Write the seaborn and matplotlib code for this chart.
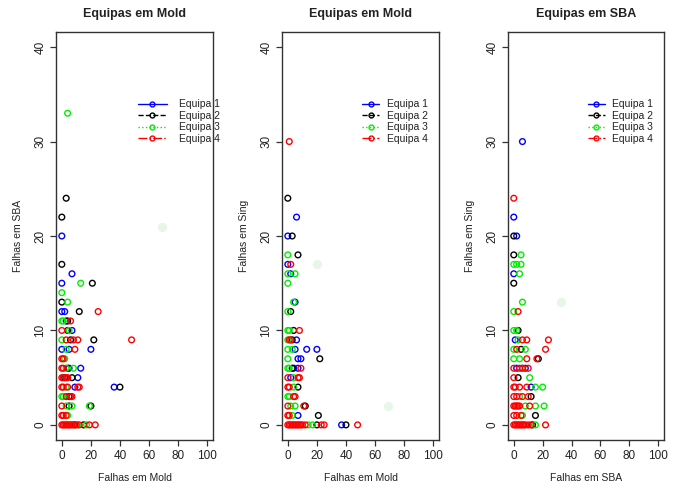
import pandas as pd
import seaborn as sns
from matplotlib import pyplot as plt
from matplotlib.lines import Line2D

# (x, y) points per team
mold_sba_eq1 = [(0, 20), (7, 16), (0, 15), (0, 12), (2, 12), (3, 11), (7, 10), (0, 8), (5, 8), (20, 8),
                (5, 6), (13, 6), (11, 5), (9, 4), (36, 4)]
mold_sba_eq2 = [(3, 24), (0, 22), (0, 17), (21, 15), (0, 13), (12, 12), (4, 11), (4, 10), (6, 9), (22, 9),
                (4, 6), (2, 5), (7, 5), (5, 3), (5, 2), (20, 2), (9, 0), (15, 0), (40, 4)]
mold_sba_eq3 = [(4, 33), (13, 15), (0, 14), (4, 13), (0, 11), (1, 11), (5, 10), (0, 9), (3, 8), (2, 7),
                (3, 6), (8, 6), (3, 4), (0, 3), (1, 3), (3, 2), (7, 2), (19, 2), (4, 1), (11, 0), (17, 0)]
mold_sba_eq4 = [(25, 12), (6, 11), (0, 10), (3, 9), (8, 9), (11, 9), (48, 9), (9, 8), (0, 7), (1, 7),
                (0, 6), (1, 6), (0, 5), (1, 5), (3, 5), (4, 5), (0, 4), (1, 4), (4, 4), (11, 4), (12, 4),
                (3, 3), (6, 3), (7, 3), (0, 2), (0, 1), (1, 1), (3, 1), (0, 0), (1, 0), (2, 0), (3, 0),
                (4, 0), (5, 0), (6, 0), (7, 0), (8, 0), (10, 0), (12, 0), (19, 0), (23, 0)]

mold_sing_eq1 = [(6, 22), (0, 20), (0, 17), (2, 16), (5, 13), (6, 9), (5, 8), (13, 8), (20, 8), (7, 7),
                 (9, 7), (4, 6), (7, 6), (2, 5), (7, 1), (37, 0)]
mold_sing_eq2 = [(0, 24), (3, 20), (7, 18), (2, 12), (4, 10), (3, 9), (22, 7), (3, 6), (7, 4), (12, 2),
                 (21, 1), (20, 0), (40, 0)]
mold_sing_eq3 = [(0, 18), (0, 16), (5, 16), (0, 15), (4, 13), (0, 12), (0, 10), (1, 10), (0, 9), (0, 8),
                 (3, 8), (0, 7), (0, 6), (1, 6), (4, 5), (4, 4), (0, 3), (1, 3), (2, 2), (5, 2), (3, 1),
                 (14, 0), (17, 0)]
mold_sing_eq4 = [(1, 30), (2, 17), (8, 10), (1, 9), (2, 9), (9, 6), (0, 5), (7, 5), (8, 5), (0, 4),
                 (1, 4), (4, 3), (5, 3), (0, 2), (11, 2), (0, 1), (1, 1), (0, 0), (1, 0), (2, 0), (3, 0),
                 (4, 0), (5, 0), (6, 0), (7, 0), (8, 0), (9, 0), (10, 0), (12, 0), (23, 0), (25, 0), (48, 0)]

sba_sing_eq1 = [(6, 30), (0, 22), (2, 20), (0, 16), (1, 9), (2, 6), (8, 6), (12, 4)]
sba_sing_eq2 = [(0, 20), (0, 18), (0, 15), (3, 10), (5, 8), (17, 7), (3, 5), (12, 3), (15, 1), (13, 0)]
sba_sing_eq3 = [(5, 18), (0, 17), (2, 17), (5, 17), (4, 16), (6, 13), (0, 12), (0, 10), (2, 10), (3, 9),
                (0, 8), (8, 8), (0, 7), (4, 7), (6, 6), (11, 5), (15, 4), (20, 4), (4, 3), (8, 2),
                (15, 2), (21, 2), (6, 1), (15, 0)]
sba_sing_eq4 = [(0, 24), (3, 12), (6, 9), (9, 9), (24, 9), (2, 8), (22, 8), (9, 7), (16, 7), (0, 6),
                (4, 6), (6, 6), (10, 6), (0, 5), (0, 4), (1, 4), (4, 4), (9, 4), (0, 3), (2, 3), (6, 3),
                (10, 3), (0, 2), (1, 2), (2, 2), (3, 2), (4, 2), (11, 2), (0, 1), (2, 1), (5, 1),
                (0, 0), (1, 0), (2, 0), (3, 0), (4, 0), (5, 0), (6, 0), (7, 0), (8, 0), (10, 0), (12, 0), (22, 0)]

# faint smudges visible in the scan
smudges = [[(69, 21)], [(20, 17), (69, 2)], [(33, 13)]]

teams = ["Equipa 1", "Equipa 2", "Equipa 3", "Equipa 4"]
colors = ["#0000ff", "#000000", "#00ee00", "#ff0000"]
styles = ["-", "--", ":", "-."]

panels = [
    ("Equipas em Mold", "Falhas em Mold", "Falhas em SBA", [mold_sba_eq1, mold_sba_eq2, mold_sba_eq3, mold_sba_eq4]),
    ("Equipas em Mold", "Falhas em Mold", "Falhas em Sing", [mold_sing_eq1, mold_sing_eq2, mold_sing_eq3, mold_sing_eq4]),
    ("Equipas em SBA", "Falhas em SBA", "Falhas em Sing", [sba_sing_eq1, sba_sing_eq2, sba_sing_eq3, sba_sing_eq4]),
]

sns.set_style("ticks")
plt.rcParams["font.family"] = ["Liberation Sans", "DejaVu Sans"]
ink = "#222222"

fig = plt.figure(figsize=(6.79, 4.83), dpi=100)
lefts = [56, 282, 508]
widths = [157, 157, 156]
leg_x = [0.52, 0.51, 0.51]
hlen = [2.8, 1.65, 1.65]
hpad = [1.2, 0.7, 0.7]

for i, (title, xlabel, ylabel, groups) in enumerate(panels):
    ax = fig.add_axes([lefts[i] / 679, 43 / 483, widths[i] / 679, 408 / 483])
    df = pd.concat(
        [pd.DataFrame(pts, columns=["x", "y"]).assign(team=t) for t, pts in zip(teams, groups)],
        ignore_index=True,
    )
    ghost = pd.DataFrame(smudges[i], columns=["x", "y"])
    sns.scatterplot(data=ghost, x="x", y="y", color="#b5e3b5", s=45, alpha=0.3, linewidth=0, ax=ax, legend=False)
    sns.scatterplot(data=df, x="x", y="y", hue="team", palette=dict(zip(teams, colors)),
                    s=17, linewidth=1.0, ax=ax, legend=False)
    pts = ax.collections[-1]
    pts.set_edgecolors(pts.get_facecolors())
    pts.set_facecolor("none")

    ax.set_xlim(-4, 104)
    ax.set_ylim(-1.6, 41.6)
    ax.set_xticks([0, 20, 40, 60, 80, 100])
    ax.set_yticks([0, 10, 20, 30, 40])
    for s in ax.spines.values():
        s.set_visible(True)
        s.set_color("#333333")
        s.set_linewidth(1.0)
    ax.tick_params(length=4, width=0.9, color="#333333", labelsize=8.5, labelcolor=ink)
    ax.tick_params(axis="x", pad=3)
    ax.tick_params(axis="y", pad=3)
    for lab in ax.get_yticklabels():
        lab.set_rotation(90)
        lab.set_va("center")
    ax.set_title(title, fontsize=9, fontweight="bold", color=ink, pad=11)
    ax.set_xlabel(xlabel, fontsize=7.5, color=ink, labelpad=8)
    ax.set_ylabel(ylabel, fontsize=7.5, color=ink, labelpad=8)

    handles = [Line2D([], [], color=c, linestyle=ls, linewidth=1, marker="o", markersize=3.5,
                      markerfacecolor="none", markeredgewidth=1) for c, ls in zip(colors, styles)]
    ax.legend(handles, teams, loc="upper left", bbox_to_anchor=(leg_x[i], 0.835), frameon=False,
              fontsize=7.5, borderpad=0, borderaxespad=0, labelspacing=0.15,
              handlelength=hlen[i], handletextpad=hpad[i], labelcolor=ink)

fig.savefig("out.png", dpi=100)
